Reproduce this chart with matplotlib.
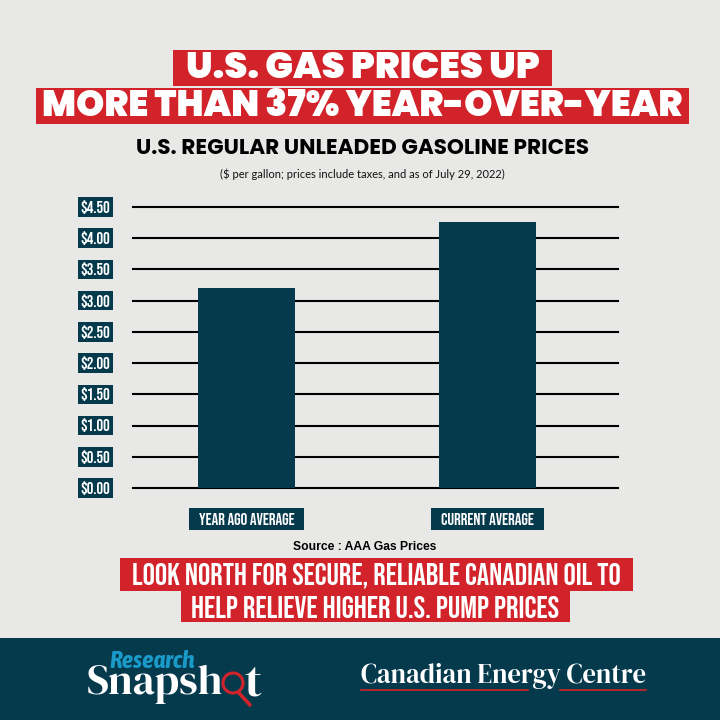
import matplotlib
matplotlib.use('Agg')
import logging
import matplotlib.pyplot as plt
from matplotlib.patches import Rectangle, Circle
from matplotlib.path import Path

logging.getLogger('matplotlib.font_manager').setLevel(logging.ERROR)

# values
categories = ['YEAR AGO AVERAGE', 'CURRENT AVERAGE']
prices = [3.20, 4.26]
ticks = [0, 0.5, 1, 1.5, 2, 2.5, 3, 3.5, 4, 4.5]
tick_labels = ['$0.00', '$0.50', '$1.00', '$1.50', '$2.00', '$2.50', '$3.00', '$3.50', '$4.00', '$4.50']

paper = '#e8e8e7'
teal = '#053a4d'
red = '#d2232a'
narrow = ['Bebas Neue', 'Oswald', 'Anton', 'DejaVu Sans']
heavy = ['Poppins', 'Inter', 'DejaVu Sans']
serif = ['DM Serif Display', 'Liberation Serif', 'DejaVu Serif']

fig = plt.figure(figsize=(7.2, 7.2), dpi=100, facecolor=paper)

# overlay in pixel coordinates for banners and footer
over = fig.add_axes([0, 0, 1, 1], zorder=0)
over.set_xlim(0, 720)
over.set_ylim(720, 0)
over.axis('off')


def fit_text(x, y, s, width, **kw):
    # scale the font size so the text takes the given pixel width
    t = over.text(x, y, s, ha='center', va='center', fontsize=20, **kw)
    w = t.get_window_extent(fig.canvas.get_renderer()).width
    t.set_fontsize(20 * width / w)
    return t


def banner(x0, x1, y0, y1, s, width, dy=0.5, **kw):
    over.add_patch(Rectangle((x0, y0), x1 - x0, y1 - y0, color=red, lw=0))
    fit_text((x0 + x1) / 2, (y0 + y1) / 2 + dy, s, width, color='white', **kw)


def wide_box(x0, y0, w, h, mutation_size):
    # label box with more room at the sides than above and below
    px = mutation_size * 0.6
    py = mutation_size * 0.3
    return Path([(x0 - px, y0 - py), (x0 + w + px, y0 - py), (x0 + w + px, y0 + h + py),
                 (x0 - px, y0 + h + py), (x0 - px, y0 - py)], closed=True)


banner(173, 552, 50, 86, 'U.S. GAS PRICES UP', 353, dy=1.5, family=heavy, weight='black')
banner(36, 689, 88, 124, 'MORE THAN 37% YEAR-OVER-YEAR', 641, dy=2, family=heavy, weight='black')
fit_text(362, 149, 'U.S. REGULAR UNLEADED GASOLINE PRICES', 453, family=heavy, weight='bold', color='black')
fit_text(362, 174, '($ per gallon; prices include taxes, and as of July 29, 2022)', 285,
         family=['Lato', 'DejaVu Sans'], color='#111111')

fit_text(365, 547, 'Source : AAA Gas Prices', 143, family=['Liberation Sans', 'DejaVu Sans'],
         weight='bold', color='black')
banner(120, 633, 558, 591, 'LOOK NORTH FOR SECURE, RELIABLE CANADIAN OIL TO', 490, family=narrow)
banner(181, 570, 591, 622, 'HELP RELIEVE HIGHER U.S. PUMP PRICES', 369, family=narrow)

# footer band and logos
over.add_patch(Rectangle((0, 638), 720, 82, color=teal, lw=0))
fit_text(152, 661, 'Research', 85, family=['Asap Condensed', 'DejaVu Sans'], style='italic', weight='semibold',
         color='#1a9ac9')
fit_text(155, 684, 'Snapsh', 136, family=serif, color='white')
fit_text(253, 685, 't', 17, family=serif, color='white')
over.add_patch(Circle((233, 683), 10, fill=False, ec=red, lw=2.2))
over.plot([239, 250], [693, 705], color=red, lw=2.6, solid_capstyle='round')
fit_text(503.5, 676, 'Canadian Energy Centre', 284, family=serif, color='white')
over.plot([361, 528], [690, 690], color=red, lw=1.2)
over.plot([560, 646], [690, 690], color=red, lw=1.2)

# chart: 133..618 px wide, $0 at y=488 and $4.50 at y=207
ax = fig.add_axes([133 / 720, (720 - 488) / 720, 485 / 720, 281 / 720], zorder=1)
ax.patch.set_alpha(0)
x = [0, 1]
ax.bar(x, prices, width=0.4025, color=teal, zorder=3)
for v in ticks:
    ax.axhline(v, color='black', lw=1.5, zorder=2, clip_on=False)
ax.set_xlim(-0.471, 1.541)
ax.set_ylim(0, 4.5)
for s in ax.spines.values():
    s.set_visible(False)
ax.set_xticks(x)
ax.set_xticklabels(categories)
ax.set_yticks(ticks)
ax.set_yticklabels(tick_labels)
ax.tick_params(axis='both', length=0)
ax.tick_params(axis='y', pad=27)
ax.tick_params(axis='x', pad=22)
for lab in ax.get_yticklabels():
    lab.set(family=narrow, color='white', fontsize=12, ha='center', va='center',
            bbox=dict(boxstyle='square,pad=0.17', fc=teal, ec='none'))
for lab in ax.get_xticklabels():
    lab.set(family=narrow, color='white', fontsize=12, ha='center', va='center',
            bbox=dict(boxstyle=wide_box, fc=teal, ec='none'))

fig.savefig('out.png', dpi=100, facecolor=paper)
